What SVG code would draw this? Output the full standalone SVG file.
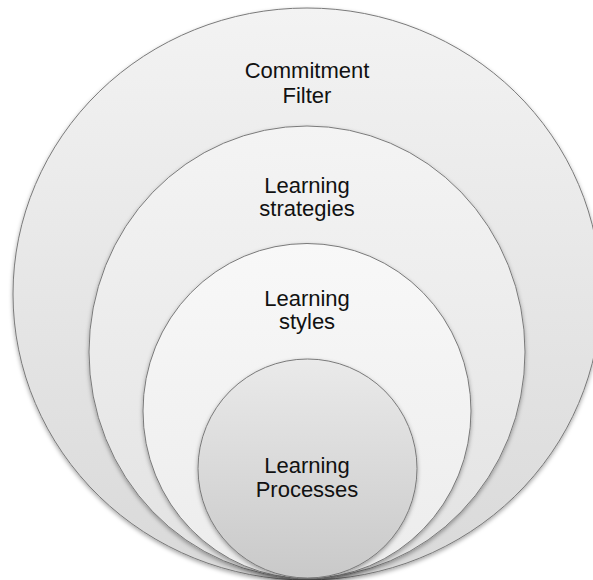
<svg xmlns="http://www.w3.org/2000/svg" width="593" height="580" viewBox="0 0 593 580">
<style>
.ring{stroke:#7a7a7a;stroke-width:1;filter:url(#sh)}
.lbl{font-family:"Liberation Sans",Arial,sans-serif;font-size:22px;fill:#111;text-anchor:middle}
</style>
<defs>
<linearGradient id="g1" x1="0" y1="0" x2="0" y2="1"><stop offset="0" stop-color="#f3f3f3"/><stop offset="1" stop-color="#d9d9d9"/></linearGradient>
<linearGradient id="g2" x1="0" y1="0" x2="0" y2="1"><stop offset="0" stop-color="#f4f4f4"/><stop offset="1" stop-color="#e2e2e2"/></linearGradient>
<linearGradient id="g3" x1="0" y1="0" x2="0" y2="1"><stop offset="0" stop-color="#f8f8f8"/><stop offset="1" stop-color="#ececec"/></linearGradient>
<linearGradient id="g4" x1="0" y1="0" x2="0" y2="1"><stop offset="0" stop-color="#eaeaea"/><stop offset="1" stop-color="#c9c9c9"/></linearGradient>
<filter id="sh" x="-10%" y="-10%" width="120%" height="125%"><feDropShadow dx="0" dy="2" stdDeviation="2" flood-color="#000" flood-opacity="0.35"/></filter>
</defs>
<rect width="593" height="580" fill="#fff"/>
<g id="commitment-filter">
<ellipse class="ring" cx="307" cy="294" rx="294" ry="286" fill="url(#g1)"/>
<text class="lbl" x="307" y="78">Commitment</text>
<text class="lbl" x="307" y="103">Filter</text>
</g>
<g id="learning-strategies">
<ellipse class="ring" cx="307" cy="352" rx="218" ry="226" fill="url(#g2)"/>
<text class="lbl" x="307" y="193">Learning</text>
<text class="lbl" x="307" y="216">strategies</text>
</g>
<g id="learning-styles">
<ellipse class="ring" cx="307" cy="411" rx="164" ry="167.5" fill="url(#g3)"/>
<text class="lbl" x="307" y="306">Learning</text>
<text class="lbl" x="307" y="329">styles</text>
</g>
<g id="learning-processes">
<ellipse class="ring" cx="307.5" cy="468.5" rx="109.5" ry="109.5" fill="url(#g4)"/>
<text class="lbl" x="307" y="473">Learning</text>
<text class="lbl" x="307" y="497">Processes</text>
</g>
<g id="connectors"/>
</svg>
